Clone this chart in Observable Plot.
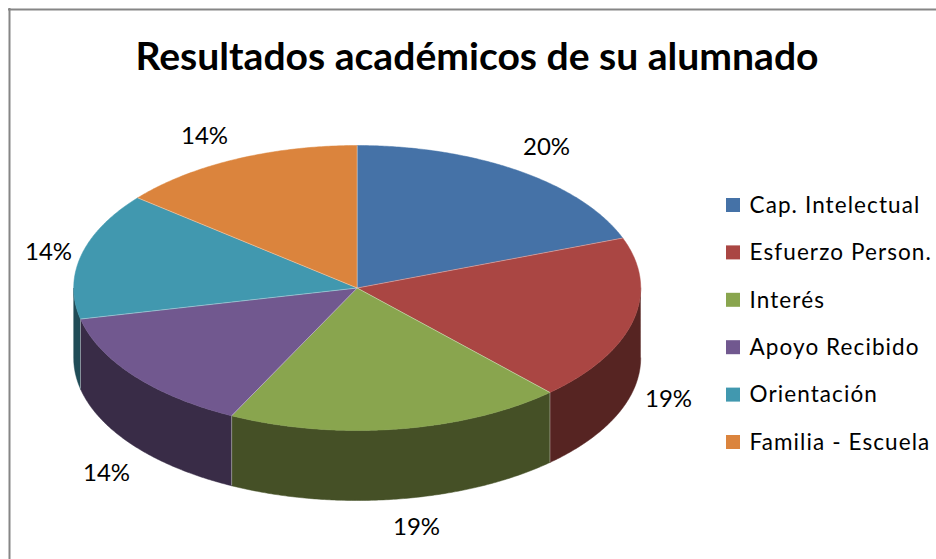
<!DOCTYPE html>
<html lang="es">
<head>
<meta charset="utf-8">
<script src="https://cdn.jsdelivr.net/npm/d3@7"></script>
<script src="https://cdn.jsdelivr.net/npm/@observablehq/plot@0.6"></script>
<style>
html,body{margin:0;padding:0;background:#fff}
svg{display:block}
</style>
</head>
<body>
<div id="chart"></div>
<script>
// Data
const titleText = "Resultados académicos de su alumnado";
const categories = ["Cap. Intelectual","Esfuerzo Person.","Interés","Apoyo Recibido","Orientación","Familia - Escuela"];
const values = [19.3,18.8,19.2,14.2,14.4,14.1];
const percentLabels = ["20%","19%","19%","14%","14%","14%"];
const topColors = ["#4572A7","#AA4643","#89A54E","#71588F","#4198AF","#DB843D"];
const sideColors = ["#223955","#562422","#455026","#392C47","#204C57","#6E421E"];

// Layout (in picture pixels; the x and y scales are 1:1)
const W = 936, H = 559;
const cx = 356.7, cy = 287.5, rx = 283.5, ry = 142.5, depth = 70;
const labelAt = [[546,147],[668,399],[416,527],[106,473],[48,252],[204,136]];
const legendTop = 205, legendStep = 47.4, swatchX = 726, swatchSize = 14, legendTextX = 749;

const total = d3.sum(values);
const ends = d3.cumsum(values).map(v => v / total * 360);
const starts = [0, ...ends.slice(0, -1)];
const px = a => cx + rx * Math.sin(a * Math.PI / 180);
const py = a => cy - ry * Math.cos(a * Math.PI / 180);
const arc = (a0, a1) => {
  const out = [];
  for (let a = a0; a < a1; a += 0.5) out.push(a);
  out.push(a1);
  return out;
};

// Top faces
const topPts = categories.flatMap((name, i) => [
  {name, i, x: cx, y: cy, color: topColors[i]},
  ...arc(starts[i], ends[i]).map(a => ({name, i, x: px(a), y: py(a), color: topColors[i]}))
]);

// Side walls: only the part of each slice facing the viewer (90° to 270°)
const wallPts = categories.flatMap((name, i) => {
  const a0 = Math.max(starts[i], 90), a1 = Math.min(ends[i], 270);
  if (a1 <= a0) return [];
  const as = arc(a0, a1);
  return [
    ...as.map(a => ({name, x: px(a), y: py(a), color: sideColors[i]})),
    ...as.slice().reverse().map(a => ({name, x: px(a), y: py(a) + depth, color: sideColors[i]}))
  ];
});

const spokes = starts.map(a => ({x1: cx, y1: cy, x2: px(a), y2: py(a)}));
const wallEdges = starts.filter(a => a > 90 && a < 270)
  .map(a => ({x: px(a), y1: py(a), y2: py(a) + depth}));

const pctLabels = percentLabels.map((text, i) => ({text, x: labelAt[i][0], y: labelAt[i][1]}));
const legend = categories.map((name, i) => ({name, color: topColors[i], y: legendTop + i * legendStep}));

const font = "Lato, Carlito, Calibri, sans-serif";
const chart = Plot.plot({
  width: W, height: H,
  margin: 0,
  style: {background: "#fff", fontFamily: font},
  x: {domain: [0, W], range: [0, W], axis: null},
  y: {domain: [0, H], range: [0, H], axis: null},
  marks: [
    Plot.ruleX([9], {y1: 8, y2: H, stroke: "#868686", strokeWidth: 2}),
    Plot.ruleY([9], {x1: 8, x2: W, stroke: "#868686", strokeWidth: 2}),
    Plot.line(wallPts, {x: "x", y: "y", z: "name", fill: "color", stroke: "color", strokeWidth: 0.5}),
    Plot.ruleX(wallEdges, {x: "x", y1: "y1", y2: "y2", stroke: "#fff", strokeOpacity: 0.45, strokeWidth: 0.8}),
    Plot.line(topPts, {x: "x", y: "y", z: "name", fill: "color", stroke: "color", strokeWidth: 0.5}),
    Plot.link(spokes, {x1: "x1", y1: "y1", x2: "x2", y2: "y2", stroke: "#fff", strokeOpacity: 0.45, strokeWidth: 0.8}),
    Plot.text([titleText], {x: 476.5, y: 57, text: d => d, fontSize: 39.1, fontWeight: 700, fill: "#000", textAnchor: "middle"}),
    Plot.text(pctLabels, {x: "x", y: "y", text: "text", fontSize: 24, fill: "#000", textAnchor: "middle"}),
    Plot.rect(legend, {
      x1: swatchX, x2: swatchX + swatchSize,
      y1: d => d.y - swatchSize / 2, y2: d => d.y + swatchSize / 2,
      fill: "color"
    }),
    Plot.text(legend, {x: legendTextX, y: "y", text: "name", fontSize: 22.5, fill: "#000", textAnchor: "start"})
  ]
});
d3.select(chart).selectAll("text")
  .filter(function () { return categories.includes(this.textContent); })
  .style("letter-spacing", "1.1px");
document.getElementById("chart").append(chart);
</script>
</body>
</html>
